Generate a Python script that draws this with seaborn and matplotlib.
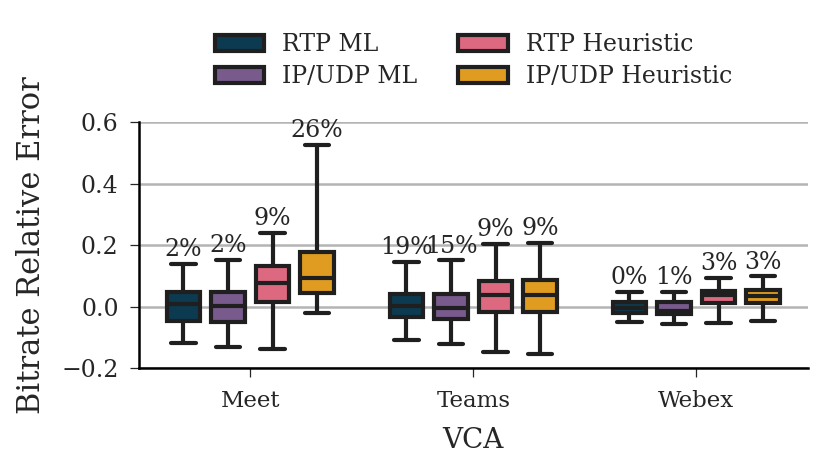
import numpy as np
import pandas as pd
import seaborn as sns
import matplotlib.pyplot as plt

sns.set_style('ticks')
plt.rcParams['font.family'] = ['DejaVu Serif']

vcas = ['Meet', 'Teams', 'Webex']
methods = ['RTP ML', 'IP/UDP ML', 'RTP Heuristic', 'IP/UDP Heuristic']
colors = ['#003f5c', '#7a5195', '#ef5675', '#ffa600']

# box summaries: [whisker low, q1, median, q3, whisker high]
meet_rtp_ml = [-0.118, -0.046, 0.009, 0.047, 0.138]
meet_ip_ml = [-0.133, -0.051, 0.001, 0.047, 0.151]
meet_rtp_heur = [-0.138, 0.016, 0.076, 0.131, 0.240]
meet_ip_heur = [-0.020, 0.045, 0.092, 0.177, 0.525]

teams_rtp_ml = [-0.109, -0.035, 0.003, 0.041, 0.145]
teams_ip_ml = [-0.122, -0.040, -0.004, 0.041, 0.150]
teams_rtp_heur = [-0.147, -0.018, 0.036, 0.082, 0.204]
teams_ip_heur = [-0.156, -0.018, 0.036, 0.085, 0.208]

webex_rtp_ml = [-0.051, -0.022, -0.004, 0.016, 0.047]
webex_ip_ml = [-0.056, -0.024, -0.013, 0.016, 0.047]
webex_rtp_heur = [-0.053, 0.011, 0.039, 0.050, 0.094]
webex_ip_heur = [-0.048, 0.011, 0.034, 0.054, 0.098]

# share of outliers printed above each box
meet_pct = ['2%', '2%', '9%', '26%']
teams_pct = ['19%', '15%', '9%', '9%']
webex_pct = ['0%', '1%', '3%', '3%']

boxes = {
    'Meet': [meet_rtp_ml, meet_ip_ml, meet_rtp_heur, meet_ip_heur],
    'Teams': [teams_rtp_ml, teams_ip_ml, teams_rtp_heur, teams_ip_heur],
    'Webex': [webex_rtp_ml, webex_ip_ml, webex_rtp_heur, webex_ip_heur],
}
pcts = {'Meet': meet_pct, 'Teams': teams_pct, 'Webex': webex_pct}

rows = []
for vca in vcas:
    for method, vals in zip(methods, boxes[vca]):
        for v in vals:
            rows.append({'VCA': vca, 'Method': method, 'error': v})
df = pd.DataFrame(rows)

fig, ax = plt.subplots(figsize=(8.31, 4.73), dpi=100)
ax.yaxis.grid(True, color='#b4b4b4', linewidth=1.8, zorder=0)
ax.set_axisbelow(True)

sns.boxplot(data=df, x='VCA', y='error', hue='Method', order=vcas, hue_order=methods,
            palette=colors, whis=(0, 100), gap=0.25, linewidth=3, linecolor='#1f1f1f',
            capwidths=0.11, ax=ax)

# percent labels above the upper whisker
slot = 0.8 / len(methods)
for i, vca in enumerate(vcas):
    for j, vals in enumerate(boxes[vca]):
        xpos = i - 0.4 + slot * (j + 0.5)
        ax.annotate(pcts[vca][j], (xpos, max(vals)), xytext=(0, 2), textcoords='offset points',
                    ha='center', va='bottom', fontsize=17)

ax.set_ylim(-0.2, 0.6)
ax.set_yticks([-0.2, 0.0, 0.2, 0.4, 0.6])
ax.set_xlim(-0.5, 2.5)
ax.set_xlabel('VCA', fontsize=20, labelpad=11)
ax.set_ylabel('Bitrate Relative Error', fontsize=22, labelpad=10)
ax.tick_params(axis='y', labelsize=17, width=0.9, length=6.5, pad=8)
ax.tick_params(axis='x', labelsize=16.5, width=0.9, length=6.5, pad=9)
sns.despine(ax=ax)
for s in ['left', 'bottom']:
    ax.spines[s].set_linewidth(1.8)
    ax.spines[s].set_color('black')

ax.legend(loc='lower center', bbox_to_anchor=(0.5, 1.05), ncol=2, frameon=False,
          fontsize=17, handlelength=2.1, columnspacing=1.75, handletextpad=0.75,
          labelspacing=0.4)

fig.subplots_adjust(left=0.167, right=0.972, top=0.742, bottom=0.222)
fig.savefig('out.png', dpi=100)
